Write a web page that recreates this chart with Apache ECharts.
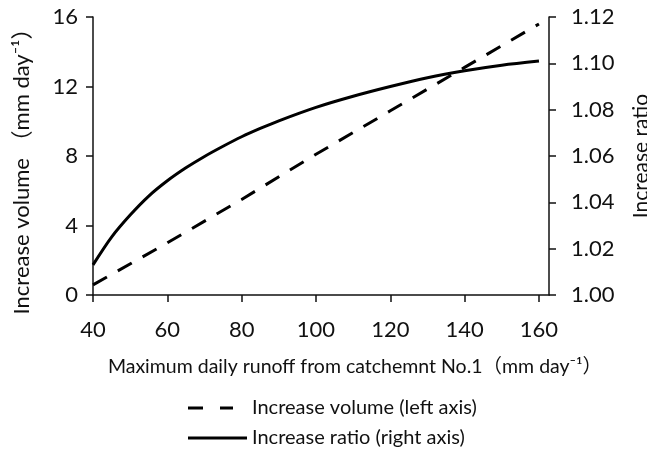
<!DOCTYPE html>
<html>
<head>
<meta charset="utf-8">
<script src="https://cdn.jsdelivr.net/npm/echarts@6/dist/echarts.min.js"></script>
<style>
html, body { margin: 0; padding: 0; background: #fff; }
#chartmain { width: 647px; height: 451px; }
</style>
</head>
<body>
<div id="chartmain"></div>
<script>
// runoff values (mm/day) on the x axis
var volX = [40, 60, 80, 100, 120, 140, 160];
var volume = [0.58, 3.0, 5.5, 8.1, 10.6, 13.1, 15.6];
var ratioX = [40, 45, 50, 55, 60, 65, 70, 75, 80, 85, 90, 100, 110, 120, 130, 140, 150, 160];
var ratio = [1.013, 1.025, 1.0345, 1.0427, 1.0493, 1.0549, 1.0598, 1.0642, 1.0683, 1.0719, 1.0752, 1.081, 1.0858, 1.09, 1.0938, 1.0968, 1.0992, 1.101];
var xTicks = [40, 60, 80, 100, 120, 140, 160];

var volName = 'Increase volume (left axis)';
var ratioName = 'Increase ratio (right axis)';

var font = "Lato, 'Noto Sans CJK SC', sans-serif";
var ink = '#111';

var volData = [];
for (var i = 0; i < volX.length; i++) {
	volData.push([volX[i], volume[i]]);
}
var ratioData = [];
for (var i = 0; i < ratioX.length; i++) {
	ratioData.push([ratioX[i], ratio[i]]);
}

var axisLine = { show: true, lineStyle: { color: ink, width: 1.5 } };
var axisTick = { show: true, inside: false, length: 7, lineStyle: { color: ink, width: 1.5 } };

var option = {
	animation: false,
	backgroundColor: '#fff',
	grid: { left: 93, right: 98, top: 17, bottom: 156, containLabel: false, outerBoundsMode: 'none' },
	legend: [{
		left: 188,
		top: 398,
		padding: 0,
		itemWidth: 45,
		itemHeight: 3,
		textStyle: { fontFamily: font, fontSize: 20, color: ink, padding: [0, 0, 0, 14] },
		data: [{ name: volName, icon: 'path://M0,0H15V3H0ZM32,0H45V3H32Z' }]
	}, {
		left: 188,
		top: 428,
		padding: 0,
		itemWidth: 59,
		itemHeight: 3,
		textStyle: { fontFamily: font, fontSize: 20, color: ink },
		data: [{ name: ratioName, icon: 'path://M0,0H59V3H0Z' }]
	}],
	xAxis: {
		type: 'value',
		min: 40,
		max: 162.7,
		interval: 20,
		name: 'Maximum daily runoff from catchemnt No.1（mm day⁻¹）',
		nameLocation: 'middle',
		nameGap: 62,
		nameTextStyle: { fontFamily: font, fontSize: 19.5, color: ink, padding: [0, 0, 0, 68] },
		axisLine: axisLine,
		axisTick: { show: true, length: 7, lineStyle: { color: ink, width: 1.5 }, customValues: xTicks },
		axisLabel: { fontFamily: font, fontSize: 22, color: ink, margin: 24, customValues: xTicks },
		splitLine: { show: false }
	},
	yAxis: [{
		type: 'value',
		min: 0,
		max: 16,
		interval: 4,
		name: 'Increase volume （mm day⁻¹）',
		nameLocation: 'middle',
		nameGap: 60,
		nameTextStyle: { fontFamily: font, fontSize: 22, color: ink, padding: [0, 20, 0, 0] },
		axisLine: axisLine,
		axisTick: axisTick,
		axisLabel: { fontFamily: font, fontSize: 22, color: ink, margin: 15 },
		splitLine: { show: false }
	}, {
		type: 'value',
		position: 'right',
		min: 1.0,
		max: 1.12,
		interval: 0.02,
		name: 'Increase ratio',
		nameLocation: 'middle',
		nameRotate: 90,
		nameGap: 82,
		nameTextStyle: { fontFamily: font, fontSize: 21, color: ink },
		axisLine: axisLine,
		axisTick: axisTick,
		axisLabel: {
			fontFamily: font, fontSize: 22, color: ink, margin: 22,
			formatter: function (v) { return v.toFixed(2); }
		},
		splitLine: { show: false }
	}],
	series: [{
		name: volName,
		type: 'line',
		yAxisIndex: 0,
		symbol: 'none',
		lineStyle: { color: '#000', width: 3, type: [16, 12.5] },
		itemStyle: { color: '#000' },
		data: volData
	}, {
		name: ratioName,
		type: 'line',
		yAxisIndex: 1,
		symbol: 'none',
		smooth: 0.3,
		lineStyle: { color: '#000', width: 3, type: 'solid' },
		itemStyle: { color: '#000' },
		data: ratioData
	}]
};

var myChart = echarts.init(document.getElementById('chartmain'));
myChart.setOption(option);
</script>
</body>
</html>
